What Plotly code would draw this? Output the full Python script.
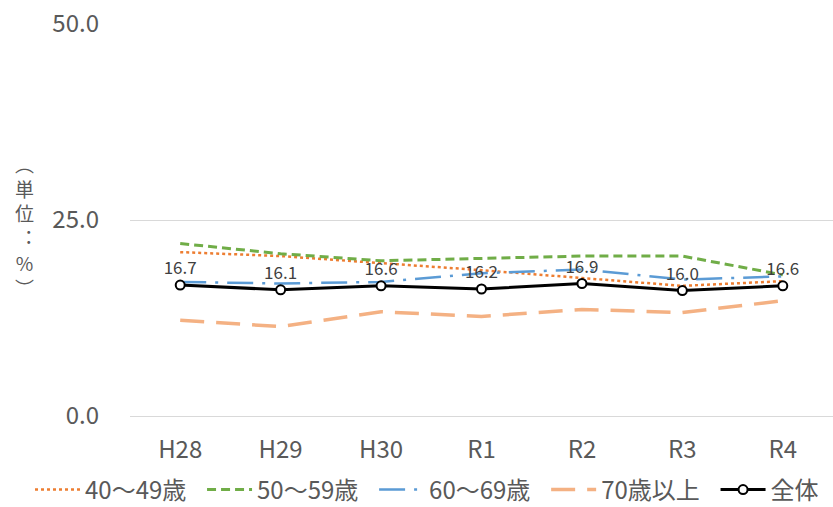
import plotly.graph_objects as go

# 年度
years = ["H28", "H29", "H30", "R1", "R2", "R3", "R4"]

# 年代別の割合（%）
age_40s = [20.9, 20.4, 19.5, 18.6, 17.6, 16.6, 17.2]
age_50s = [22.0, 20.7, 19.8, 20.1, 20.4, 20.4, 18.0]
age_60s = [17.1, 16.9, 17.1, 18.2, 18.7, 17.4, 17.8]
age_70plus = [12.2, 11.4, 13.3, 12.7, 13.6, 13.2, 14.7]
overall = [16.7, 16.1, 16.6, 16.2, 16.9, 16.0, 16.6]

FONT = "Noto Sans CJK JP, Noto Sans, sans-serif"
GRAY = "#595959"
PAD = "\u00a0\u00a0"  # extra room between legend entries

fig = go.Figure()

fig.add_trace(go.Scatter(
    x=years, y=age_40s, name="40～49歳" + PAD, mode="lines",
    line=dict(color="#ED7D31", width=2.5, dash="dot"),
))
fig.add_trace(go.Scatter(
    x=years, y=age_50s, name="50～59歳" + PAD, mode="lines",
    line=dict(color="#70AD47", width=3, dash="9px,5px"),
))
fig.add_trace(go.Scatter(
    x=years, y=age_60s, name="60～69歳" + PAD, mode="lines",
    line=dict(color="#5B9BD5", width=2.5, dash="26px,9px,3px,9px"),
))
fig.add_trace(go.Scatter(
    x=years, y=age_70plus, name="70歳以上" + PAD, mode="lines",
    line=dict(color="#F4B183", width=3.5, dash="24px,12px"),
))
fig.add_trace(go.Scatter(
    x=years, y=overall, name="全体", mode="lines+markers+text",
    line=dict(color="#000000", width=3),
    marker=dict(symbol="circle", size=9, color="white",
                line=dict(color="#000000", width=2)),
    text=[f"{v:.1f}" for v in overall],
    textposition="top center",
    textfont=dict(family=FONT, size=17, color="#404040"),
))

fig.update_layout(
    width=833, height=507,
    margin=dict(l=130, r=0, t=24, b=91, autoexpand=False),
    paper_bgcolor="white",
    plot_bgcolor="white",
    font=dict(family=FONT, color=GRAY, size=24),
    showlegend=True,
    legend=dict(
        orientation="h",
        x=(30 - 130) / 703, xanchor="left",
        y=-(490 - 416) / 392, yanchor="middle",
        bgcolor="rgba(0,0,0,0)",
        font=dict(family=FONT, size=24, color=GRAY),
        itemwidth=45, tracegroupgap=0,
    ),
    xaxis=dict(
        type="category", range=[-0.5, 6.5],
        showgrid=False, showline=False, zeroline=False,
        ticks="", ticklabelstandoff=17,
        tickfont=dict(family=FONT, size=24, color=GRAY),
    ),
    yaxis=dict(
        range=[0, 50], dtick=25, tickformat=".1f",
        showgrid=True, gridcolor="#D9D9D9", gridwidth=1,
        zeroline=True, zerolinecolor="#D9D9D9", zerolinewidth=1,
        showline=False, ticks="", ticklabelstandoff=30,
        tickfont=dict(family=FONT, size=24, color=GRAY),
    ),
    annotations=[dict(
        text="︵<br>単<br>位<br>︓<br>%<br>︶",
        xref="paper", yref="paper", x=(25 - 130) / 703, y=0.485,
        xanchor="center", yanchor="middle", showarrow=False,
        font=dict(family=FONT, size=19, color=GRAY),
        align="center",
    )],
)

fig.write_html("out.html")
